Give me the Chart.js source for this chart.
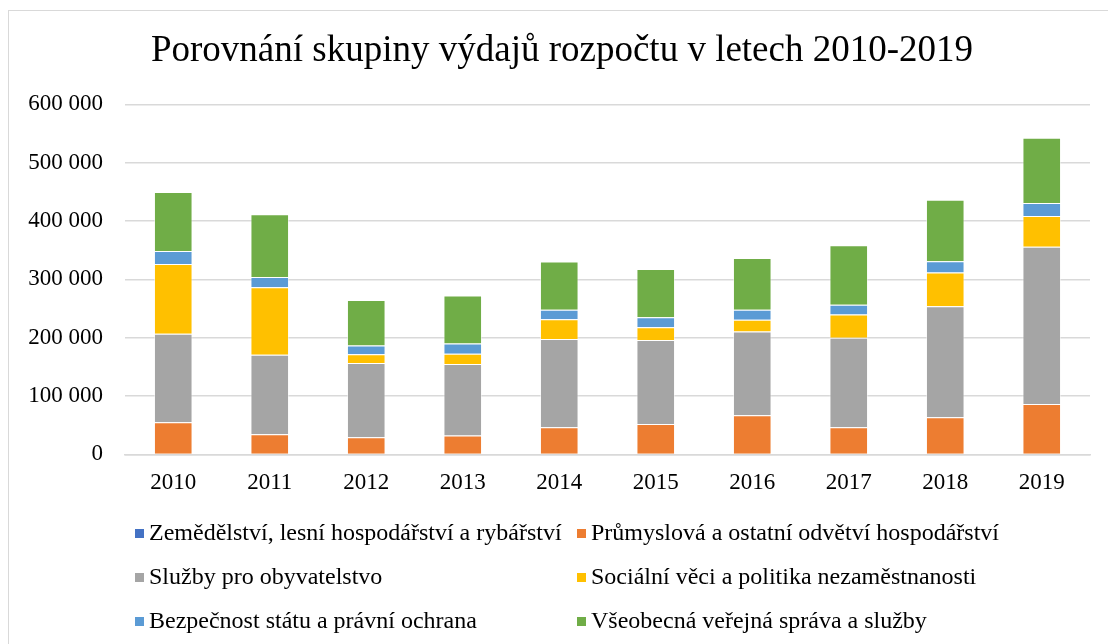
<!DOCTYPE html>
<html>
<head>
<meta charset="utf-8">
<script src="https://cdn.jsdelivr.net/npm/chart.js@4"></script>
<style>
  body { margin: 0; background: #fff; }
  #wrap { position: relative; width: 1108px; height: 644px; overflow: hidden; }
  #frame { position: absolute; left: 8px; top: 10px; width: 1130px; height: 680px; border: 1px solid #d9d9d9; }
  canvas { position: absolute; left: 0; top: 0; }
  .leg { position: absolute; font-family: 'Liberation Serif', serif; font-size: 24px; color: #000; white-space: nowrap; line-height: 26px; }
  .leg span { display: inline-block; width: 9px; height: 9px; margin-right: 5px; vertical-align: 2px; }
</style>
</head>
<body>
<div id="wrap">
  <div id="frame"></div>
  <canvas id="myChart" width="1108" height="644"></canvas>
  <div id="legend"></div>
</div>
<script>
var years = ["2010", "2011", "2012", "2013", "2014", "2015", "2016", "2017", "2018", "2019"];

var zemedelstvi = [0, 0, 0, 0, 0, 0, 0, 0, 0, 0];
var prumysl = [55000, 34500, 29500, 32500, 46500, 52000, 67000, 46500, 63500, 86500];
var sluzby = [152000, 136500, 127000, 122500, 151500, 144000, 143500, 153500, 190500, 269500];
var socialni = [119500, 115500, 15000, 17500, 33500, 22000, 20500, 40000, 58000, 52500];
var bezpecnost = [22000, 17500, 15000, 17500, 16500, 17000, 17000, 16500, 19000, 22500];
var sprava = [101500, 107500, 78000, 82500, 82500, 83000, 88500, 102000, 105500, 112000];

var seriesNames = [
    "Zemědělství, lesní hospodářství a rybářství",
    "Průmyslová a ostatní odvětví hospodářství",
    "Služby pro obyvatelstvo",
    "Sociální věci a politika nezaměstnanosti",
    "Bezpečnost státu a právní ochrana",
    "Všeobecná veřejná správa a služby"
];
var seriesColors = ['#4472C4', '#ED7D31', '#A5A5A5', '#FFC000', '#5B9BD5', '#70AD47'];
var seriesData = [zemedelstvi, prumysl, sluzby, socialni, bezpecnost, sprava];

var font = "'Liberation Serif', 'Times New Roman', serif";

var datasets = seriesNames.map(function (name, i) {
    return {
        label: name,
        data: seriesData[i],
        backgroundColor: seriesColors[i],
        borderColor: 'rgba(255,255,255,0.5)',
        borderWidth: 1,
        categoryPercentage: 1,
        barPercentage: 0.4
    };
});

// title in the original sits a bit right of the canvas centre
var titleShift = {
    id: 'titleShift',
    afterLayout: function (c) { c.titleBlock.left += 26; }
};

var ctx = document.getElementById('myChart').getContext('2d');
var chart = new Chart(ctx, {
    type: 'bar',
    data: { labels: years, datasets: datasets },
    plugins: [titleShift],
    options: {
        responsive: false,
        animation: false,
        layout: { padding: { left: 8, right: 18, top: 29, bottom: 140 } },
        plugins: {
            legend: { display: false },
            tooltip: { enabled: false },
            title: {
                display: true,
                text: 'Porovnání skupiny výdajů rozpočtu v letech 2010-2019',
                color: '#000',
                font: { family: font, size: 37, weight: 'normal' },
                padding: { top: 0, bottom: 31 }
            }
        },
        scales: {
            x: {
                stacked: true,
                grid: { display: false },
                border: { color: '#d9d9d9', width: 1.5 },
                ticks: { color: '#000', font: { family: font, size: 23 }, padding: 7 }
            },
            y: {
                stacked: true,
                min: 0,
                max: 600000,
                afterFit: function (s) { s.width = 117; },
                grid: { color: '#d9d9d9', lineWidth: 1.5, drawTicks: false },
                border: { display: false },
                ticks: {
                    stepSize: 100000,
                    padding: 22,
                    color: '#000',
                    font: { family: font, size: 23 },
                    callback: function (v) { return String(v).replace(/\B(?=(\d{3})+(?!\d))/g, ' '); }
                }
            }
        }
    }
});

// legend in two columns like the original
var legPos = [[135, 519], [577, 519], [135, 563], [577, 563], [135, 607], [577, 607]];
var legend = document.getElementById('legend');
seriesNames.forEach(function (name, i) {
    var d = document.createElement('div');
    d.className = 'leg';
    d.style.left = legPos[i][0] + 'px';
    d.style.top = legPos[i][1] + 'px';
    d.innerHTML = '<span style="background:' + seriesColors[i] + '"></span>' + name;
    legend.appendChild(d);
});
</script>
</body>
</html>
